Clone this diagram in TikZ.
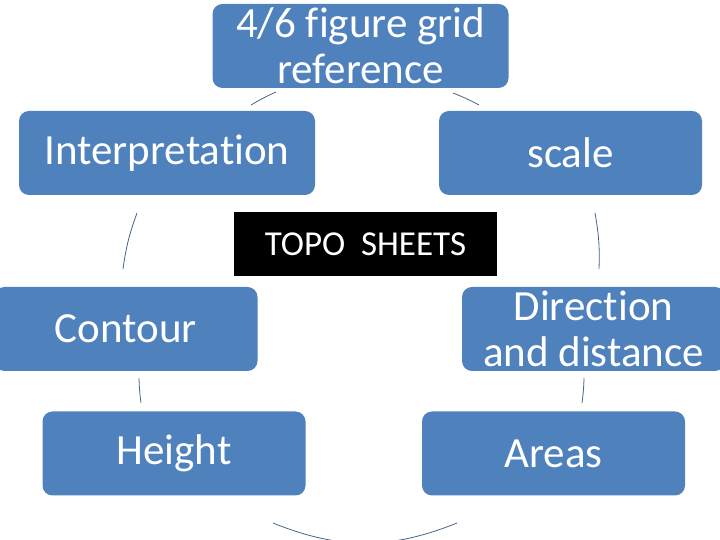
\documentclass[tikz,border=0pt]{standalone}
\usepackage{fontspec}
\setmainfont{Carlito}[Ligatures=NoCommon]
\definecolor{topicblue}{RGB}{79,129,189}
\definecolor{linkblue}{RGB}{70,100,140}
\tikzset{
  topic/.style={fill=topicblue, rounded corners=10pt, text=white, align=center,
    font=\fontsize{43}{46}\selectfont, minimum width=263pt, minimum height=84pt, inner sep=0pt},
  widetopic/.style={topic, minimum width=296pt},
  sheet/.style={fill=black, text=white, font=\fontsize{35}{40}\selectfont,
    minimum width=263pt, minimum height=64pt, inner sep=0pt},
  link/.style={draw=linkblue, line width=0.8pt}
}
\newcommand{\topic}[3]{%
 \node[topic] ({#1}) at ({#2}) {#3};%
}
\newcommand{\widetopic}[3]{%
 \node[widetopic] ({#1}) at ({#2}) {#3};%
}

\begin{document}
\begin{tikzpicture}[x=1pt,y=1pt]
  \clip (0,0) rectangle (720,540);
  \widetopic{grid}{360.5,494}{4/6 figure grid\\reference};
  \widetopic{interp}{167,387}{Interpretation};
  \topic{scale}{570.5,387}{scale};
  \topic{contour}{126,211}{Contour};
  \topic{direction}{593.5,211}{Direction\\and distance};
  \topic{height}{174,86.5}{Height};
  \topic{areas}{553.5,86.5}{Areas};
  \node[sheet] (topo) at (365.5,296) {TOPO\ \ SHEETS};
  % ends of the cycle arcs
  \coordinate (ig1) at (251,435);  \coordinate (ig2) at (276,448);
  \coordinate (gs1) at (453,447);  \coordinate (gs2) at (479,435);
  \coordinate (sd1) at (595,327);  \coordinate (sd2) at (599,271);
  \coordinate (da1) at (584,162);  \coordinate (da2) at (582,137);
  \coordinate (ah1) at (457,17);   \coordinate (ah2) at (273,17);
  \coordinate (hc1) at (141,137);  \coordinate (hc2) at (139,162);
  \coordinate (ci1) at (123,271);  \coordinate (ci2) at (137,327);
  \draw[link] (ig1) to[bend left=3] (ig2);
  \draw[link] (gs1) to[bend left=3] (gs2);
  \draw[link] (sd1) to[bend left=6] (sd2);
  \draw[link] (da1) to[bend left=3] (da2);
  \draw[link] (ah1) to[bend left=22] (ah2);
  \draw[link] (hc1) to[bend left=3] (hc2);
  \draw[link] (ci1) to[bend left=6] (ci2);
\end{tikzpicture}
\end{document}
